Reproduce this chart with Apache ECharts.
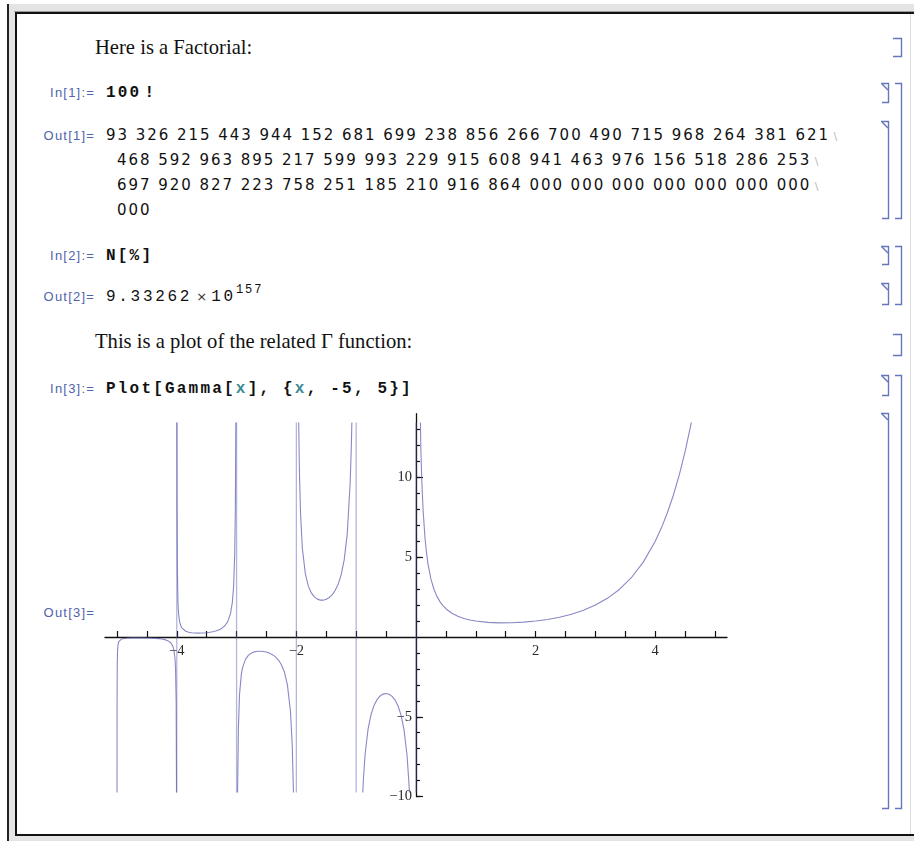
<!DOCTYPE html>
<html>
<head>
<meta charset="utf-8">
<script src="https://cdn.jsdelivr.net/npm/echarts@6/dist/echarts.min.js"></script>
<style>
  html,body{margin:0;padding:0;}
  body{width:914px;height:841px;position:relative;overflow:hidden;background:#fff;}
  .t{position:absolute;white-space:pre;line-height:1;}
  .txt{font-family:"Liberation Serif","Times New Roman",serif;font-size:20.6px;color:#111;}
  .lab{font-family:"Liberation Sans",Arial,sans-serif;font-size:13px;color:#5063ad;letter-spacing:1.2px;text-align:right;width:70px;left:25px;}
  .inp{font-family:"Liberation Mono","Courier New",monospace;font-size:16px;font-weight:bold;color:#111;letter-spacing:2.2px;}
  .num{font-family:"DejaVu Sans",sans-serif;font-size:15px;color:#111;letter-spacing:1.96px;}
  .out2{font-family:"Liberation Mono","Courier New",monospace;font-size:16px;color:#111;letter-spacing:2.7px;}
  .cont{color:#b8b8b8;font-size:11px;letter-spacing:0;}
  .var{color:#3c8a96;}
</style>
</head>
<body>
<!-- window frame -->
<div style="position:absolute;left:7px;top:4px;width:2px;height:837px;background:#222;"></div>
<div style="position:absolute;left:9px;top:4px;width:905px;height:8px;background:#e4e4e4;"></div>
<div style="position:absolute;left:9px;top:4px;width:6px;height:837px;background:#e4e4e4;"></div>
<div style="position:absolute;left:14px;top:11px;width:900px;height:1px;background:#9a9a9a;"></div>
<div style="position:absolute;left:15px;top:12px;width:899px;height:2px;background:#111;"></div>
<div style="position:absolute;left:15px;top:12px;width:2px;height:823px;background:#111;"></div>
<div style="position:absolute;left:15px;top:834px;width:899px;height:2px;background:#111;"></div>
<div style="position:absolute;left:15px;top:836px;width:899px;height:5px;background:#e4e4e4;"></div>
<div style="position:absolute;left:910px;top:14px;width:1px;height:820px;background:#dcdcdc;"></div>

<!-- cell brackets -->
<svg style="position:absolute;left:0;top:0" width="914" height="841">
  <g fill="none" stroke="#6576bd" stroke-width="1.4">
    <polyline points="893,38.5 901.5,38.5 901.5,56.5 893,56.5"/>
    <polyline points="895,83.5 901.5,83.5 901.5,218.5 895,218.5"/>
    <polyline points="881,83.5 888.5,83.5 888.5,102.5 882,102.5"/><line x1="882" y1="84" x2="888" y2="90"/>
    <polyline points="881,121.5 888.5,121.5 888.5,218.5 882,218.5"/><line x1="882" y1="122" x2="888" y2="128"/>
    <polyline points="895,246.5 901.5,246.5 901.5,304.5 895,304.5"/>
    <polyline points="881,246.5 888.5,246.5 888.5,264.5 882,264.5"/><line x1="882" y1="247" x2="888" y2="253"/>
    <polyline points="881,283.5 888.5,283.5 888.5,304.5 882,304.5"/><line x1="882" y1="284" x2="888" y2="290"/>
    <polyline points="893,334.5 901.5,334.5 901.5,355.5 893,355.5"/>
    <polyline points="895,375.5 901.5,375.5 901.5,808.5 895,808.5"/>
    <polyline points="881,375.5 888.5,375.5 888.5,395.5 882,395.5"/><line x1="882" y1="376" x2="888" y2="382"/>
    <polyline points="881,413.5 888.5,413.5 888.5,808.5 882,808.5"/><line x1="882" y1="414" x2="888" y2="420"/>
  </g>
</svg>

<!-- notebook text -->
<div class="t txt" style="left:95px;top:37px;">Here is a Factorial:</div>

<div class="t lab" style="top:86px;">In[1]:=</div>
<div class="t inp" style="left:106px;top:85px;">100<span style="letter-spacing:0">&#8201;</span>!</div>

<div class="t lab" style="top:129px;">Out[1]=</div>
<div class="t num" style="left:106px;top:128px;">93 326 215 443 944 152 681 699 238 856 266 700 490 715 968 264 381 621<span class="cont"> \</span></div>
<div class="t num" style="left:117px;top:153px;">468 592 963 895 217 599 993 229 915 608 941 463 976 156 518 286 253<span class="cont"> \</span></div>
<div class="t num" style="left:117px;top:178px;">697 920 827 223 758 251 185 210 916 864 000 000 000 000 000 000 000<span class="cont"> \</span></div>
<div class="t num" style="left:117px;top:203px;">000</div>

<div class="t lab" style="top:249px;">In[2]:=</div>
<div class="t inp" style="left:106px;top:248px;">N[%]</div>

<div class="t lab" style="top:290px;">Out[2]=</div>
<div class="t out2" style="left:106px;top:289px;">9.33262<span style="font-family:'DejaVu Sans';font-size:13px;letter-spacing:0;color:#333"> × </span>10<span style="font-size:12px;letter-spacing:2px;position:relative;top:-8px">157</span></div>

<div class="t txt" style="left:95px;top:331px;">This is a plot of the related Γ function:</div>

<div class="t lab" style="top:382px;">In[3]:=</div>
<div class="t inp" style="left:106px;top:381px;">Plot[Gamma[<span class="var">x</span>], {<span class="var">x</span>, -5, 5}]</div>

<div class="t lab" style="top:606px;">Out[3]=</div>

<div id="chart" style="position:absolute;left:0;top:400px;width:914px;height:430px;"></div>

<script>
// ---- values: [x, Gamma(x)]; curve ends where it leaves the plot range ----
var branch1 = [[-4.9991,-9.75],[-4.998,-4.2],[-4.995,-1.7],[-4.99,-0.85],[-4.98,-0.43],[-4.97,-0.293],[-4.95,-0.18],[-4.92,-0.121],[-4.9,-0.100],[-4.85,-0.0743],[-4.8,-0.062],[-4.75,-0.0564],[-4.7,-0.054],[-4.65,-0.0528],[-4.6,-0.054],[-4.55,-0.0561],[-4.5,-0.060],[-4.45,-0.0655],[-4.4,-0.074],[-4.35,-0.0856],[-4.3,-0.102],[-4.25,-0.126],[-4.2,-0.164],[-4.15,-0.229],[-4.1,-0.364],[-4.07,-0.539],[-4.05,-0.78],[-4.03,-1.33],[-4.02,-2.02],[-4.01,-4.1],[-4.0043,-9.75]];
var branch2 = [[-3.9969,13.45],[-3.995,8.4],[-3.99,4.23],[-3.98,2.15],[-3.97,1.455],[-3.95,0.902],[-3.92,0.593],[-3.9,0.492],[-3.85,0.3605],[-3.8,0.2996],[-3.75,0.2679],[-3.7,0.2517],[-3.65,0.2454],[-3.6,0.2469],[-3.55,0.2551],[-3.5,0.2701],[-3.45,0.293],[-3.4,0.3259],[-3.35,0.3723],[-3.3,0.4385],[-3.25,0.5363],[-3.2,0.689],[-3.15,0.952],[-3.1,1.492],[-3.07,2.19],[-3.05,3.14],[-3.03,5.35],[-3.02,8.13],[-3.0124,13.45]];
var branch3 = [[-2.9832,-9.75],[-2.97,-5.78],[-2.95,-3.563],[-2.92,-2.33],[-2.9,-1.918],[-2.85,-1.388],[-2.8,-1.139],[-2.75,-1.005],[-2.7,-0.931],[-2.65,-0.896],[-2.6,-0.889],[-2.55,-0.906],[-2.5,-0.945],[-2.45,-1.011],[-2.4,-1.108],[-2.35,-1.248],[-2.3,-1.447],[-2.25,-1.743],[-2.2,-2.205],[-2.15,-3.0],[-2.1,-4.626],[-2.07,-6.73],[-2.049,-9.75]];
var branch4 = [[-1.9615,13.45],[-1.95,10.51],[-1.93,7.68],[-1.9,5.563],[-1.85,3.956],[-1.8,3.188],[-1.75,2.762],[-1.7,2.514],[-1.65,2.374],[-1.6,2.311],[-1.55,2.309],[-1.5,2.363],[-1.45,2.477],[-1.4,2.659],[-1.35,2.931],[-1.3,3.328],[-1.25,3.921],[-1.2,4.851],[-1.15,6.45],[-1.1,9.715],[-1.08,12.14],[-1.0723,13.45]];
var branch5 = [[-0.8895,-9.75],[-0.88,-8.95],[-0.85,-7.32],[-0.8,-5.739],[-0.75,-4.834],[-0.7,-4.274],[-0.65,-3.917],[-0.6,-3.697],[-0.55,-3.579],[-0.5,-3.545],[-0.45,-3.591],[-0.4,-3.723],[-0.35,-3.957],[-0.3,-4.327],[-0.25,-4.902],[-0.2,-5.821],[-0.15,-7.417],[-0.12,-9.05],[-0.1107,-9.75]];
var branch6 = [[0.0743,13.45],[0.08,12.0],[0.09,10.62],[0.1,9.514],[0.12,7.876],[0.15,6.22],[0.175,5.31],[0.2,4.591],[0.25,3.626],[0.3,2.992],[0.35,2.546],[0.4,2.218],[0.45,1.969],[0.5,1.772],[0.6,1.489],[0.7,1.298],[0.8,1.164],[0.9,1.069],[1.0,1.0],[1.2,0.918],[1.4,0.887],[1.6,0.894],[1.8,0.931],[2.0,1.0],[2.2,1.102],[2.4,1.242],[2.6,1.43],[2.8,1.677],[3.0,2.0],[3.2,2.424],[3.4,2.981],[3.6,3.717],[3.8,4.694],[4.0,6.0],[4.1,6.813],[4.2,7.757],[4.3,8.855],[4.4,10.136],[4.5,11.632],[4.6,13.381],[4.604,13.45]];
// vertical connecting lines that the plot draws through each pole, from bottom to top of the plot range
var poleX = [-4,-3,-2,-1,0];
var plotRangeY = [-9.75,13.45];

var xTickValues = [-5,-4.5,-4,-3.5,-3,-2.5,-2,-1.5,-1,-0.5,0.5,1,1.5,2,2.5,3,3.5,4,4.5,5];
var xTickLabels = [-4,-2,2,4];
var yTickValues = [-10,-9,-8,-7,-6,-5,-4,-3,-2,-1,1,2,3,4,5,6,7,8,9,10,11,12,13];
var yTickLabels = [-10,-5,5,10];
var xRange = [-5.2,5.2];
var yRange = [-10,14];

var GAP = ['-','-'];
var curve = [];
[branch1,branch2,branch3,branch4,branch5,branch6].forEach(function(b,i){
  if (i>0) curve.push(GAP);
  curve = curve.concat(b);
});
var poles = [];
poleX.forEach(function(px,i){
  if (i>0) poles.push(GAP);
  poles.push([px,plotRangeY[0]],[px,plotRangeY[1]]);
});

function fmt(v){ return (v<0 ? '\u2212' : '') + Math.abs(v); }

var G = {left:105, top:13.7, width:622, height:382.8};
// place axes through the origin (as in the original), using axis offsets
var xAxisOffset = -G.height * (0 - yRange[0]) / (yRange[1]-yRange[0]);
var yAxisOffset = -G.width * (0 - xRange[0]) / (xRange[1]-xRange[0]);

var chart = echarts.init(document.getElementById('chart'), null, {renderer:'canvas'});
var axisFont = {fontFamily:'Liberation Serif', fontSize:14.5, color:'#2a2a2a'};
var lineCol = '#5a5ab0';
chart.setOption({
  animation:false,
  grid:{left:G.left, top:G.top, width:G.width, height:G.height, containLabel:false, outerBoundsMode:'none'},
  xAxis:{
    type:'value', min:xRange[0], max:xRange[1], position:'bottom', offset:xAxisOffset,
    axisLine:{onZero:false, lineStyle:{color:'#111', width:1.3}},
    axisTick:{inside:true, length:6, customValues:xTickValues, lineStyle:{color:'#111', width:1.2}},
    axisLabel:Object.assign({customValues:xTickLabels, formatter:fmt, margin:7}, axisFont),
    splitLine:{show:false}
  },
  yAxis:[{
    type:'value', min:yRange[0], max:yRange[1], position:'left', offset:yAxisOffset,
    axisLine:{onZero:false, lineStyle:{color:'#111', width:1.3}},
    axisTick:{inside:true, length:4, customValues:yTickValues, lineStyle:{color:'#111', width:1.2}},
    axisLabel:Object.assign({customValues:yTickLabels, formatter:fmt, margin:4}, axisFont),
    splitLine:{show:false}
  },{
    type:'value', min:yRange[0], max:yRange[1], position:'left', offset:yAxisOffset,
    axisLine:{show:false, onZero:false},
    axisTick:{inside:true, length:7, customValues:yTickLabels, lineStyle:{color:'#111', width:1.2}},
    axisLabel:{show:false},
    splitLine:{show:false}
  }],
  series:[{
    type:'line', data:poles, showSymbol:false, symbol:'none', silent:true, clip:true, connectNulls:false,
    lineStyle:{color:lineCol, width:1.3, opacity:0.45}
  },{
    type:'line', data:curve, showSymbol:false, symbol:'none', silent:true, clip:true, connectNulls:false,
    lineStyle:{color:lineCol, width:1.1, opacity:0.72}
  }]
});
</script>
</body>
</html>
